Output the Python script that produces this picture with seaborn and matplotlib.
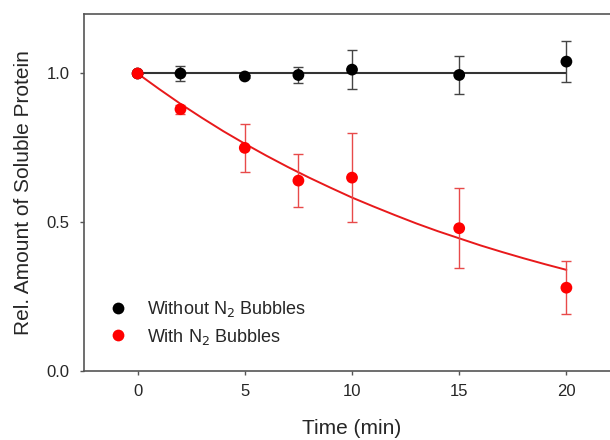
import numpy as np
import pandas as pd
import matplotlib
matplotlib.use("Agg")
import matplotlib.pyplot as plt
import seaborn as sns

time_min = [0, 2, 5, 7.5, 10, 15, 20]

without_n2 = [1.00, 1.00, 0.99, 0.995, 1.013, 0.995, 1.04]
without_err = [0.0, 0.025, 0.006, 0.028, 0.065, 0.063, 0.07]

with_n2 = [1.00, 0.88, 0.75, 0.64, 0.65, 0.48, 0.28]
with_err = [0.0, 0.015, 0.08, 0.088, 0.15, 0.135, 0.09]

# Fit lines
flat_t = [0, 20]
flat_y = [1.0, 1.0]
fit_t = list(range(0, 21))
fit_y = [1.000, 0.948, 0.898, 0.851, 0.806, 0.764, 0.724, 0.686, 0.650, 0.616,
         0.583, 0.553, 0.524, 0.496, 0.470, 0.446, 0.422, 0.400, 0.379, 0.359, 0.340]

x_ticks = [0, 5, 10, 15, 20]
y_ticks = [0.0, 0.5, 1.0]

sns.set_style("ticks")
plt.rcParams["font.family"] = ["Liberation Sans", "DejaVu Sans"]

fig = plt.figure(figsize=(6.1, 4.4), dpi=100)
# the right side of the original plot is cut off by the image edge
ax = fig.add_axes([84 / 610, 1 - 371 / 440, 536 / 610, 357 / 440])

# fitted lines
sns.lineplot(x=flat_t, y=flat_y, ax=ax, color="#333333", linewidth=1.5, zorder=2)
sns.lineplot(x=fit_t, y=fit_y, ax=ax, color="#e8191b", linewidth=1.4, zorder=2)

# error bars
ax.errorbar(time_min, without_n2, yerr=without_err, fmt="none", ecolor="#444444",
            elinewidth=1.0, capsize=3.8, capthick=1.0, zorder=3)
ax.errorbar(time_min, with_n2, yerr=with_err, fmt="none", ecolor="#e84a4a",
            elinewidth=1.0, capsize=3.8, capthick=1.0, zorder=3)

# points
df = pd.DataFrame({
    "Time": time_min * 2,
    "Value": without_n2 + with_n2,
    "Group": ["Without N$_2$ Bubbles"] * len(time_min) + ["With N$_2$ Bubbles"] * len(time_min),
})
sns.scatterplot(data=df, x="Time", y="Value", hue="Group",
                palette={"Without N$_2$ Bubbles": "black", "With N$_2$ Bubbles": "#ff0000"},
                s=72, edgecolor="none", ax=ax, zorder=4)

ax.set_xlim(-2.5, 22.5)
ax.set_ylim(0, 1.2)
ax.set_xticks(x_ticks)
ax.set_yticks(y_ticks)
ax.set_yticklabels([f"{v:.1f}" for v in y_ticks])
ax.tick_params(direction="out", length=3.2, width=1, color="#555555", labelsize=12)
ax.tick_params(axis="y", pad=7)
ax.tick_params(axis="x", pad=6.5)
for side in ["left", "bottom", "top"]:
    ax.spines[side].set_visible(True)
    ax.spines[side].set_color("#555555")
    ax.spines[side].set_linewidth(1.2)
ax.spines["right"].set_visible(False)

ax.set_xlabel("Time (min)", fontsize=15, labelpad=14)
ax.set_ylabel("Rel. Amount of Soluble Protein", fontsize=15, labelpad=10)

leg = ax.legend(loc="lower left", bbox_to_anchor=(0.0, 0.023), frameon=False,
                fontsize=13, handletextpad=0.6, labelspacing=0.4, markerscale=1.0)

fig.savefig("out.png", dpi=100)
